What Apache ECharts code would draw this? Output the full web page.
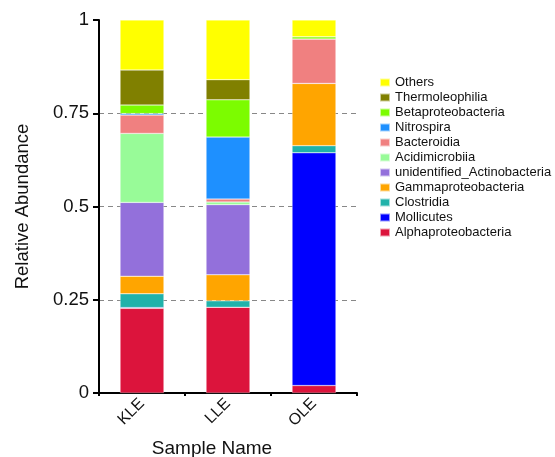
<!DOCTYPE html>
<html><head><meta charset="utf-8">
<script src="https://cdn.jsdelivr.net/npm/echarts@6/dist/echarts.min.js"></script>
<style>html,body{margin:0;padding:0;background:#fff}#c{width:555px;height:457px}</style>
</head><body><div id="c"></div>
<script>
const samples = ["KLE", "LLE", "OLE"];
const Alphaproteobacteria = [0.227, 0.230, 0.020];
const Mollicutes = [0.002, 0.000, 0.624];
const Clostridia = [0.037, 0.017, 0.019];
const Gammaproteobacteria = [0.047, 0.070, 0.167];
const unidentified_Actinobacteria = [0.198, 0.188, 0.000];
const Acidimicrobiia = [0.185, 0.007, 0.000];
const Bacteroidia = [0.049, 0.008, 0.119];
const Nitrospira = [0.004, 0.166, 0.000];
const Betaproteobacteria = [0.023, 0.100, 0.006];
const Thermoleophilia = [0.094, 0.054, 0.000];
const Others = [0.134, 0.160, 0.045];
const yTicks = [0, 0.25, 0.5, 0.75, 1];

const seriesDefs = [
  ["Alphaproteobacteria", Alphaproteobacteria, "#DC143C"],
  ["Mollicutes", Mollicutes, "#0000FF"],
  ["Clostridia", Clostridia, "#20B2AA"],
  ["Gammaproteobacteria", Gammaproteobacteria, "#FFA500"],
  ["unidentified_Actinobacteria", unidentified_Actinobacteria, "#9370DB"],
  ["Acidimicrobiia", Acidimicrobiia, "#98FB98"],
  ["Bacteroidia", Bacteroidia, "#F08080"],
  ["Nitrospira", Nitrospira, "#1E90FF"],
  ["Betaproteobacteria", Betaproteobacteria, "#7CFC00"],
  ["Thermoleophilia", Thermoleophilia, "#808000"],
  ["Others", Others, "#FFFF00"]
];

const font = "Liberation Sans, Arial, sans-serif";
const chart = echarts.init(document.getElementById('c'), null, {renderer: 'canvas'});
chart.setOption({
  animation: false,
  backgroundColor: '#fff',
  grid: {left: 99, right: 198, top: 20, bottom: 64, containLabel: false, outerBoundsMode: 'none'},
  legend: {
    orient: 'vertical', left: 374, top: 71,
    itemWidth: 10, itemHeight: 8, itemGap: 2,
    icon: 'rect',
    data: seriesDefs.map(d => d[0]).reverse(),
    textStyle: {fontFamily: font, fontSize: 13, lineHeight: 13, color: '#111'}
  },
  xAxis: {
    type: 'category', data: samples,
    name: 'Sample Name', nameLocation: 'middle', nameGap: 46,
    nameTextStyle: {fontFamily: font, fontSize: 19, color: '#111', padding: [0, 32, 0, 0]},
    axisLine: {lineStyle: {color: '#000', width: 2}},
    axisTick: {show: true, alignWithLabel: false, length: 3, lineStyle: {color: '#000', width: 2}},
    axisLabel: {rotate: 45, fontFamily: font, fontSize: 16, color: '#111', margin: 8}
  },
  yAxis: {
    type: 'value', min: 0, max: 1, interval: 0.25,
    name: 'Relative Abundance', nameLocation: 'middle', nameGap: 67,
    nameTextStyle: {fontFamily: font, fontSize: 18.5, color: '#111'},
    axisLine: {show: true, lineStyle: {color: '#000', width: 2}},
    axisTick: {show: true, length: 6, lineStyle: {color: '#000', width: 2}},
    axisLabel: {fontFamily: font, fontSize: 18.5, color: '#111', margin: 10,
      formatter: v => yTicks.indexOf(v) >= 0 ? String(v) : ''},
    splitLine: {show: true, lineStyle: {color: '#888', type: [5, 4], width: 1},
      showMinLine: false, showMaxLine: false}
  },
  series: seriesDefs.map(d => ({
    name: d[0], type: 'bar', stack: 'total', data: d[1], barWidth: '51%',
    itemStyle: {color: d[2], borderColor: 'rgba(255,255,255,0.6)', borderWidth: 0.5}
  }))
});
</script></body></html>
